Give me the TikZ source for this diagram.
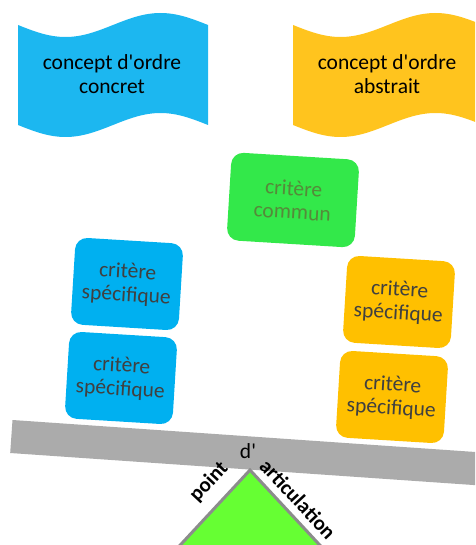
\documentclass[tikz,border=0pt]{standalone}
\usepackage{fontspec}
\setmainfont{Carlito}
\definecolor{flagblue}{HTML}{1CB7F0}
\definecolor{flagorange}{HTML}{FFC41E}
\definecolor{boxblue}{HTML}{00B0F0}
\definecolor{boxorange}{HTML}{FFC000}
\definecolor{boxgreen}{HTML}{33E84A}
\definecolor{txtgreen}{HTML}{558A3A}
\definecolor{txtgray}{HTML}{404040}
\definecolor{beamgray}{HTML}{ABABAB}
\definecolor{trigreen}{HTML}{66FF33}
\definecolor{triedge}{HTML}{8C8C8C}
\tikzset{
  crit/.style={rounded corners=12pt, minimum width=108pt, minimum height=87pt,
    align=center, text=txtgray, rotate=-3.5, inner sep=0pt,
    font=\fontsize{21.5}{23.5}\selectfont},
  flagtext/.style={align=center, text=black, font=\fontsize{21.5}{24}\selectfont},
  pivottext/.style={font=\bfseries\fontsize{21}{24}\selectfont, text=black, inner sep=0pt}
}
\begin{document}
\begin{tikzpicture}[x=1pt,y=-1pt]
\useasboundingbox (0,0) rectangle (475,545);
\clip (0,0) rectangle (475,545);
% flags
\fill[flagblue] plot[domain=18:208,samples=80] (\x,{25+12*sin(1.8947*(\x-18))})
  -- plot[domain=208:18,samples=80] (\x,{125+12*sin(1.8947*(\x-18))}) -- cycle;
\fill[flagorange] plot[domain=293:483,samples=80] (\x,{25+12*sin(1.8947*(\x-293))})
  -- plot[domain=483:293,samples=80] (\x,{125+12*sin(1.8947*(\x-293))}) -- cycle;
\node[flagtext] (fc) at (112,74) {concept d\textquotesingle ordre\\concret};
\node[flagtext] (fa) at (387,74) {concept d\textquotesingle ordre\\abstrait};
% boxes
\node[crit, fill=boxgreen, text=txtgreen, minimum width=128pt, minimum height=88pt] (cc) at (293,200) {critère\\commun};
\node[crit, fill=boxblue] (b1) at (127,284) {critère\\spécifique};
\node[crit, fill=boxblue] (b2) at (121,378) {critère\\spécifique};
\node[crit, fill=boxorange] (o1) at (399,302) {critère\\spécifique};
\node[crit, fill=boxorange] (o2) at (392,397) {critère\\spécifique};
% beam
\fill[beamgray] (12.5,420) -- (490,453) -- (487.7,486) -- (10.2,453) -- cycle;
% fulcrum
\coordinate (apex) at (250,470);
\coordinate (bl) at (171,555);
\coordinate (br) at (329,555);
\fill[trigreen] (apex) -- (bl) -- (br) -- cycle;
\draw[triedge, line width=3pt, line join=miter] (bl) -- (apex) -- (br);
% labels
\node[font=\fontsize{21.5}{24}\selectfont, inner sep=0pt] (d) at (248,451) {d\textquotesingle};
\node[pivottext, rotate=47] (pt) at (209,482) {point};
\node[pivottext, rotate=-47] (ar) at (298,499) {articulation};
\end{tikzpicture}
\end{document}
